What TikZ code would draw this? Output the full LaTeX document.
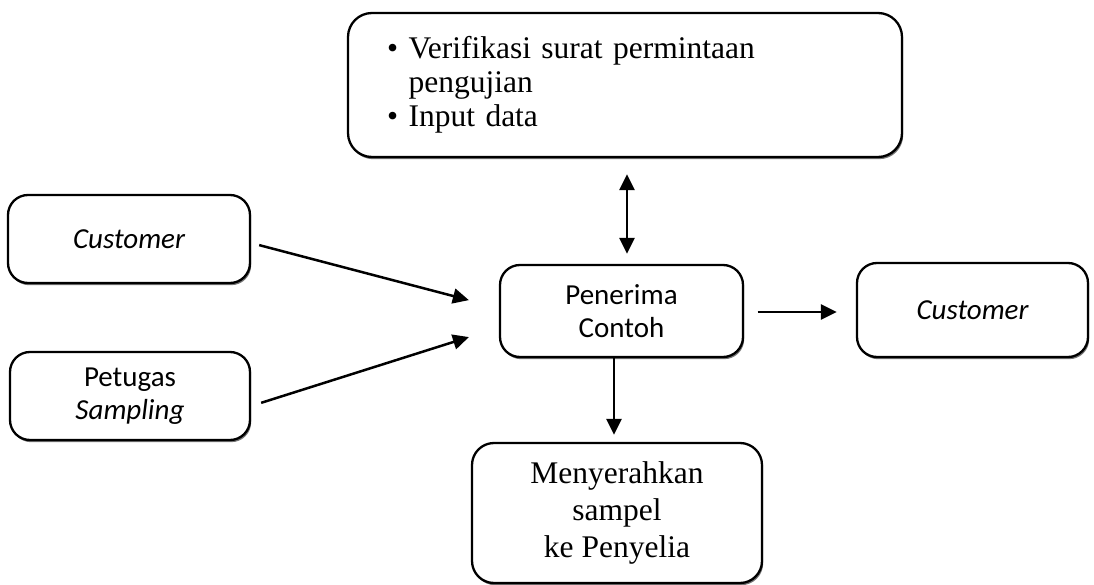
\documentclass[tikz,border=0pt]{standalone}
\usepackage{fontspec}
\setmainfont{Liberation Serif}
\newfontfamily\carlito{Carlito}
\usetikzlibrary{arrows.meta,calc,shadows}
\begin{document}
\begin{tikzpicture}[x=1pt,y=-1pt,
  box/.style={draw=black, line width=2.3pt, fill=white, rounded corners=20pt,
    inner sep=0pt, align=center,
    drop shadow={shadow xshift=1.2pt, shadow yshift=-2.2pt, fill=black!55, opacity=1}},
  sansbox/.style={box, font=\carlito\fontsize{29}{33}\selectfont},
  serifbox/.style={box, font=\fontsize{31.5}{37}\selectfont},
  arr/.style={line width=2.5pt, -{Triangle[length=16pt,width=15pt]}},
  darr/.style={line width=2.5pt, {Triangle[length=16pt,width=15pt]}-{Triangle[length=16pt,width=15pt]}}
]
\useasboundingbox (0,0) rectangle (1094,585);

\node[box, rounded corners=24pt, minimum width=554pt, minimum height=144pt,
  text width=476pt, inner xsep=39pt, align=left,
  font=\fontsize{31.5}{34}\selectfont] (tb) at (625,85)
  {\textbullet\ Verifikasi surat permintaan\\
   \hphantom{\textbullet\ }pengujian\\
   \textbullet\ Input data};

\node[sansbox, minimum width=242pt, minimum height=88pt] (cl) at (129,239) {\itshape Customer};
\node[sansbox, minimum width=240pt, minimum height=88pt] (ps) at (130,396) {Petugas\\\itshape Sampling};
\node[sansbox, minimum width=243pt, minimum height=92pt] (pc) at (621.5,311) {Penerima\\Contoh};
\node[sansbox, minimum width=231pt, minimum height=94pt] (rc) at (972.5,310) {\itshape Customer};
\node[serifbox, rounded corners=22pt, minimum width=290pt, minimum height=140pt] (mk) at (617,513)
  {Menyerahkan\\sampel\\ke Penyelia};

\draw[arr, shorten <=8.3pt, shorten >=31pt] ($(cl.east)+(0,4)$) -- ($(pc.west)+(0,-3)$);
\draw[arr, shorten <=10.5pt, shorten >=31.4pt] ($(ps.east)+(0,10)$) -- ($(pc.west)+(0,16.6)$);
\draw[darr, shorten <=16pt, shorten >=10pt] ($(tb.south)+(2,0)$) -- ($(pc.north)+(5.5,0)$);
\draw[arr, shorten <=13.5pt, shorten >=19pt] ($(pc.east)+(0,1)$) -- ($(rc.west)+(0,2)$);
\draw[arr, shorten >=7pt] ($(pc.south)+(-7.5,0)$) -- ($(mk.north)+(-3,0)$);
\end{tikzpicture}
\end{document}
